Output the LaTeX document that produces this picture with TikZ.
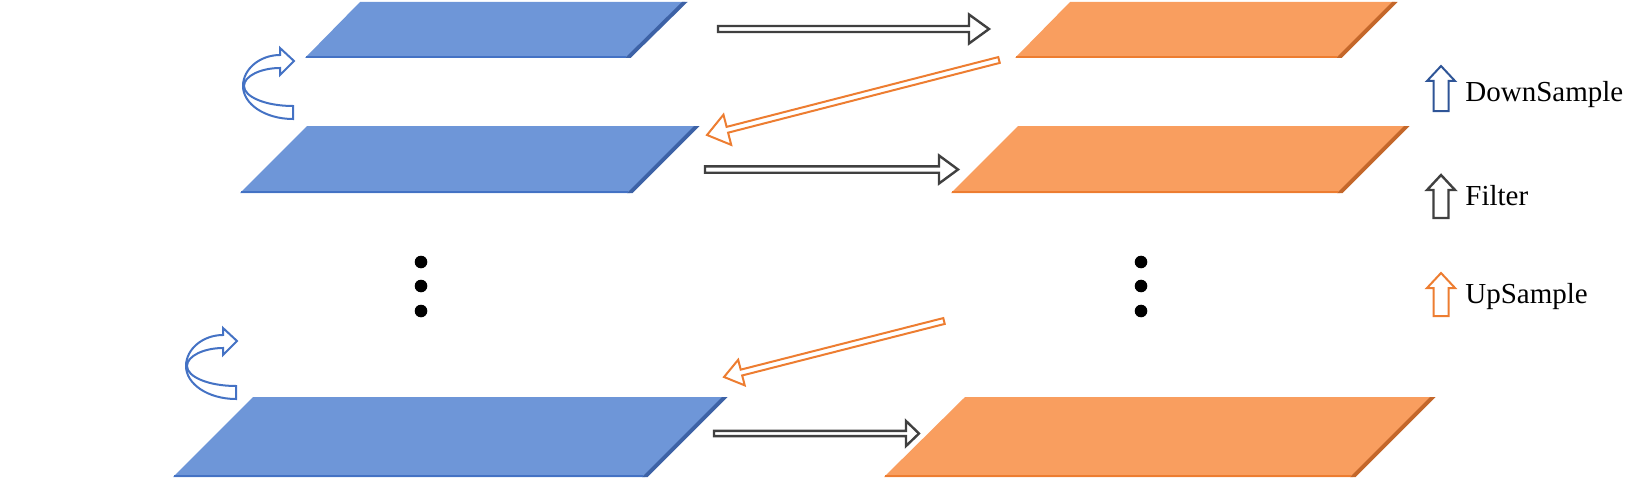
\documentclass[tikz,border=0pt]{standalone}
\usepackage{fontspec}
\setmainfont{Liberation Serif}
\usetikzlibrary{calc}
\definecolor{bfill}{HTML}{6E96D8}
\definecolor{bdark}{HTML}{3D62A6}
\definecolor{bline}{HTML}{4472C4}
\definecolor{ofill}{HTML}{F99E5F}
\definecolor{odark}{HTML}{C4672A}
\definecolor{oline}{HTML}{ED7D31}
\definecolor{gline}{HTML}{404040}
\definecolor{dline}{HTML}{2F5597}
% #1 tail, #2 tip, #3 style, #4 half shaft, #5 half head, #6 head length
\newcommand\blockarr[6]{%
  \path ($(#2)!#6!(#1)$) coordinate (hb);
  \draw[#3] ($(#1)!#4!90:(#2)$) -- ($(hb)!#4!-90:(#1)$) -- ($(hb)!#5!-90:(#1)$) -- (#2)
    -- ($(hb)!#5!90:(#1)$) -- ($(hb)!#4!90:(#1)$) -- ($(#1)!#4!-90:(#2)$) -- cycle;
}
% #1 TLx #2 TRx #3 BRx #4 BLx #5 top y #6 bottom y #7 colour prefix
\newcommand\slab[7]{%
  \fill[#7fill] (#1,#5) -- (#2,#5) -- (#3,#6) -- (#4,#6) -- cycle;
  \fill[#7dark] (#3-3,#6) -- (#2-3,#5) -- (#2+2.5,#5) -- (#3+2.5,#6) -- cycle;
  \draw[#7line, line width=1pt] (#4+1,#6-1) -- (#3-2,#6-1);
}
\tikzset{
  filterarr/.style={draw=gline, line width=1.2pt, fill=white},
  uparr/.style={draw=oline, line width=1pt, fill=white},
  downarr/.style={draw=dline, line width=1pt, fill=white},
  curvarr/.style={draw=bline, line width=1pt, fill=white},
  legtext/.style={anchor=base west, inner sep=0pt, font=\fontsize{14.5}{17}\selectfont},
  dotmark/.style={circle, fill=black, inner sep=0pt, minimum size=6.3pt},
}
\begin{document}
\begin{tikzpicture}[x=0.5pt, y=-0.5pt]
\useasboundingbox (0,0) rectangle (1641,481);

% planes
\slab{360}{685}{628}{305}{2}{58}{b}
\slab{307}{697}{630}{240}{126}{193}{b}
\slab{253}{725}{645}{173}{397}{477}{b}
\slab{1070}{1395}{1339}{1015}{2}{58}{o}
\slab{1018}{1407}{1340}{951}{126}{193}{o}
\slab{965}{1433}{1353}{884}{397}{477}{o}

% coordinates for connectors
\coordinate (f1s) at (718,29);   \coordinate (f1e) at (989,29);
\coordinate (f2s) at (705,169.5); \coordinate (f2e) at (958,169.5);
\coordinate (f3s) at (714,433.5); \coordinate (f3e) at (919,433.5);
\coordinate (u1s) at (999,60);   \coordinate (u1e) at (707,135);
\coordinate (u2s) at (944,321);  \coordinate (u2e) at (724,377);

\blockarr{f1s}{f1e}{filterarr}{1.5pt}{7.25pt}{10pt}
\blockarr{f2s}{f2e}{filterarr}{1.6pt}{7pt}{9.5pt}
\blockarr{f3s}{f3e}{filterarr}{1.3pt}{6.25pt}{6.5pt}
\blockarr{u1s}{u1e}{uparr}{1.5pt}{7.8pt}{10.5pt}
\blockarr{u2s}{u2e}{uparr}{1.5pt}{6.6pt}{9pt}

% curved arrows
\foreach \dx/\dy in {0/0, -57/280}{
\begin{scope}[shift={(\dx,\dy)}]
\draw[curvarr] (293,106) -- (293,119)
  .. controls (265,119) and (243,104) .. (243,86)
  .. controls (243,69) and (260,55) .. (280,55)
  -- (280,48) -- (294,61) -- (280,75) -- (280,68)
  .. controls (261,68) and (244,76) .. (244,86)
  .. controls (244,97) and (266,106) .. (293,106) -- cycle;
\end{scope}
}

% dots
\node[dotmark] (dl1) at (421,262) {};
\node[dotmark] (dl2) at (421,286) {};
\node[dotmark] (dl3) at (421,311) {};
\node[dotmark] (dr1) at (1141,262) {};
\node[dotmark] (dr2) at (1141,286) {};
\node[dotmark] (dr3) at (1141,311) {};

% legend
\coordinate (ld1) at (1441,111); \coordinate (ld2) at (1441,66);
\coordinate (lf1) at (1441,218); \coordinate (lf2) at (1441,175);
\coordinate (lu1) at (1441,316); \coordinate (lu2) at (1441,273);
\blockarr{ld1}{ld2}{downarr}{3.75pt}{7pt}{7.5pt}
\blockarr{lf1}{lf2}{filterarr}{3.75pt}{7pt}{7.5pt}
\blockarr{lu1}{lu2}{uparr}{3.75pt}{7pt}{7.5pt}
\node[legtext] (tdown) at (1465,102) {DownSample};
\node[legtext] (tfilt) at (1465,205) {Filter};
\node[legtext] (tup) at (1465,303) {UpSample};
\end{tikzpicture}
\end{document}
